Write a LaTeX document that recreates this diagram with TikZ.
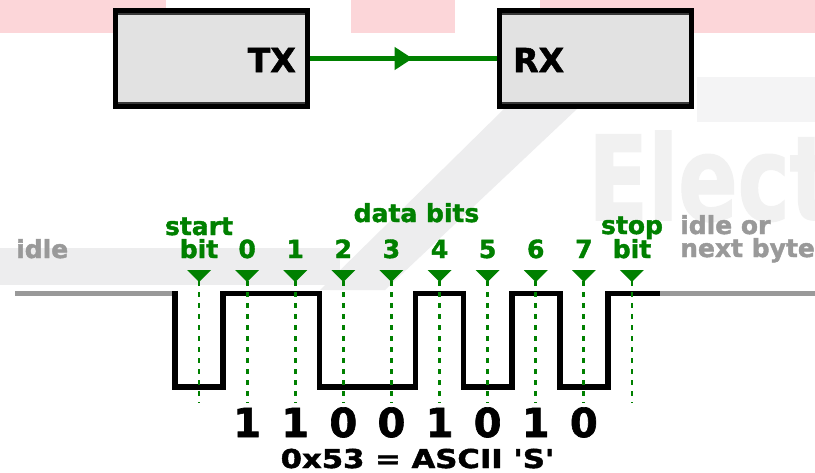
\documentclass[tikz,border=0pt]{standalone}
\usepackage{fontspec}
\setmainfont{DejaVu Sans}[BoldFont={DejaVu Sans Bold}, BoldFeatures={FakeBold=1.6}]
\usepackage{graphicx}
\usetikzlibrary{decorations.markings,arrows.meta}
\definecolor{sgreen}{RGB}{0,128,0}
\definecolor{idlegrey}{RGB}{153,153,153}
\definecolor{boxfill}{RGB}{226,226,226}
\definecolor{wmpink}{RGB}{252,214,217}
\definecolor{wmgrey}{RGB}{237,237,238}
\definecolor{wmtext}{RGB}{241,241,241}
\begin{document}
\begin{tikzpicture}[x=1pt,y=-1pt,
  box/.style={draw=black, line width=5pt, fill=boxfill, minimum width=192pt, minimum height=96pt, inner sep=0pt, outer sep=0pt},
  boxlbl/.style={font=\bfseries\fontsize{33}{36}\selectfont, inner sep=0pt},
  glbl/.style={font=\bfseries\fontsize{25}{28}\selectfont, text=sgreen, inner sep=0pt, anchor=base},
  ilbl/.style={font=\bfseries\fontsize{25}{28}\selectfont, text=idlegrey, inner sep=0pt, anchor=base west},
  bitval/.style={font=\bfseries\fontsize{40}{44}\selectfont, inner sep=0pt, anchor=base},
  wave/.style={line width=5.5pt, line join=miter, line cap=butt},
  idleline/.style={line width=5.5pt, draw=idlegrey},
  guide/.style={draw=sgreen, line width=2.8pt, dash pattern=on 5pt off 6pt},
  marker/.style={fill=sgreen},
  strip/.style={line width=2.5pt, draw=black!78}
]
\useasboundingbox (0,0) rectangle (815,472);
\clip (0,0) rectangle (815,472);
\fill[white] (0,0) rectangle (815,472);
% faint background marks
\fill[wmpink] (0,0) rectangle (166,33);
\fill[wmpink] (351,0) rectangle (455,33);
\fill[wmpink] (540,0) rectangle (815,33);
\fill[wmgrey!60] (697,77) rectangle (815,122);
\fill[wmgrey] (0,248) rectangle (340,285);
\fill[wmgrey] (505,108) -- (578,108) -- (385,290) -- (320,290) -- cycle;
\node[text=wmtext, font=\bfseries\fontsize{117}{120}\selectfont, anchor=base west, inner sep=0pt] (wm) at (588,220) {\scalebox{0.75}[1]{Elect}};

% TX / RX
\node[box] (tx) at (211.5,58.5) {};
\node[box] (rx) at (595,58.5) {};
\draw[strip] ([xshift=2.5pt,yshift=-3.7pt]tx.north west) -- ([xshift=-2.5pt,yshift=-3.7pt]tx.north east);
\draw[strip] ([xshift=2.5pt,yshift=3.7pt]tx.south west) -- ([xshift=-2.5pt,yshift=3.7pt]tx.south east);
\draw[strip] ([xshift=2.5pt,yshift=-3.7pt]rx.north west) -- ([xshift=-2.5pt,yshift=-3.7pt]rx.north east);
\draw[strip] ([xshift=2.5pt,yshift=3.7pt]rx.south west) -- ([xshift=-2.5pt,yshift=3.7pt]rx.south east);
\node[boxlbl, anchor=base east] (txl) at (296,72) {TX};
\node[boxlbl, anchor=base west] (rxl) at (513,72) {RX};
\draw[draw=sgreen, line width=5pt, postaction={decorate},
  decoration={markings, mark=at position 0.55 with {\arrow{Triangle[length=18pt,width=22pt]}}}]
  ([xshift=2.5pt]tx.east) -- ([xshift=-2.5pt]rx.west);

% waveform
\draw[idleline] (15,293.5) -- (175,293.5);
\draw[idleline] (658,293.5) -- (815,293.5);
\draw[wave] (175,290.8) -- (175,387) -- (223.1,387) -- (223.1,293.5) -- (319.4,293.5) -- (319.4,387)
  -- (415.6,387) -- (415.6,293.5) -- (463.7,293.5) -- (463.7,387) -- (511.8,387) -- (511.8,293.5)
  -- (559.9,293.5) -- (559.9,387) -- (608,387) -- (608,293.5) -- (660,293.5);

% markers and guides
\foreach \k in {0,...,9}{
  \pgfmathsetmacro{\xx}{199.05+48.1*\k}
  \fill[marker] (\xx-12,270) -- (\xx+12,270) -- (\xx,282) -- cycle;
  \coordinate (m\k) at (\xx,281);
  \coordinate (e\k) at (\xx,403);
  \draw[guide] (m\k) -- (e\k);
}

% labels
\node[glbl] (start) at (199,235) {start};
\node[glbl] (startbit) at (199,258) {bit};
\foreach \k in {0,...,7}{
  \pgfmathsetmacro{\xx}{247.15+48.1*\k}
  \node[glbl] (d\k) at (\xx,258) {\k};
}
\node[glbl] (data) at (416.5,222) {data bits};
\node[glbl] (stop) at (632,234) {stop};
\node[glbl] (stopbit) at (632,258) {bit};
\node[ilbl] (idle) at (16,258) {idle};
\node[ilbl] (idleor) at (680,234) {idle or};
\node[ilbl] (nextb) at (680,257) {next byte};

% bit values
\foreach \v [count=\i from 0] in {1,1,0,0,1,0,1,0}{
  \pgfmathsetmacro{\xx}{247.15+48.1*\i}
  \node[bitval] (v\i) at (\xx,437) {\v};
}
\node[font=\bfseries\fontsize{26}{30}\selectfont, inner sep=0pt, anchor=base] (cap) at (417.5,468)
  {\scalebox{1.18}[1]{0x53 = ASCII \textquotesingle S\textquotesingle}};
\end{tikzpicture}
\end{document}
